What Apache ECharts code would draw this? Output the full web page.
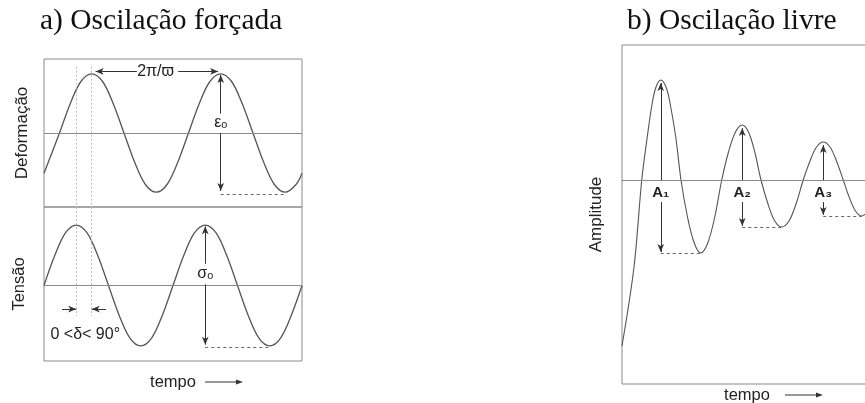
<!DOCTYPE html>
<html>
<head>
<meta charset="utf-8">
<script src="https://cdn.jsdelivr.net/npm/echarts@6/dist/echarts.min.js"></script>
<style>
  html, body { margin: 0; padding: 0; background: #fff; }
  #chart { width: 865px; height: 403px; }
</style>
</head>
<body>
<div id="chart"></div>
<script>
// a) forced oscillation: strain (top) lags stress (bottom) by delta
const strainT = [0, 0.6, 1.02, 1.43, 1.85, 2.27, 2.68, 3.1, 3.52, 3.93, 4.35, 4.77, 5.18, 5.6,
  6.02, 6.43, 6.85, 7.27, 7.68, 8.1, 8.52, 8.93, 9.35, 9.77, 10]
const strainV = [-0.68, 0, 0.5, 0.87, 1, 0.87, 0.5, 0, -0.5, -0.87, -1, -0.87, -0.5, 0,
  0.5, 0.87, 1, 0.87, 0.5, 0, -0.5, -0.87, -1, -0.87, -0.68]
const stressT = [0, 0.42, 0.83, 1.25, 1.67, 2.08, 2.5, 2.92, 3.33, 3.75, 4.17, 4.58, 5,
  5.42, 5.83, 6.25, 6.67, 7.08, 7.5, 7.92, 8.33, 8.75, 9.17, 9.58, 10]
const stressV = [0, 0.5, 0.87, 1, 0.87, 0.5, 0, -0.5, -0.87, -1, -0.87, -0.5, 0,
  0.5, 0.87, 1, 0.87, 0.5, 0, -0.5, -0.87, -1, -0.87, -0.5, 0]

// b) free (damped) oscillation
const freeT = [0, 0.48, 0.79, 1.01, 1.21, 1.36, 1.55, 1.76, 1.92, 2.15, 2.36, 2.62, 2.89, 3.15, 3.43, 3.71,
  3.99, 4.26, 4.54, 4.81, 5.06, 5.31, 5.56, 5.84, 6.11, 6.39, 6.68, 6.96, 7.25, 7.52, 7.78, 8.05,
  8.32, 8.58, 8.85, 9.1, 9.34, 9.59, 10]
const freeV = [-1.66, -0.87, 0, 0.43, 0.77, 0.93, 1, 0.93, 0.77, 0.43, 0, -0.37, -0.63, -0.73, -0.63, -0.37,
  0, 0.28, 0.48, 0.55, 0.48, 0.28, 0, -0.24, -0.41, -0.47, -0.41, -0.24, 0, 0.19, 0.33, 0.38,
  0.33, 0.19, 0, -0.18, -0.31, -0.36, -0.25]
const ampNames = ['A₁', 'A₂', 'A₃']

const SANS = '"Liberation Sans", Arial, sans-serif'
const LINE = '#555'
const FRAME = '#8a8a8a'

function pairs(t, v) {
  return t.map((x, i) => [x, v[i]])
}

// indices of local maxima (dir = 1) or minima (dir = -1)
function extremes(v, dir) {
  const idx = []
  for (let i = 1; i < v.length - 1; i++) {
    if (dir * (v[i] - v[i - 1]) > 0 && dir * (v[i] - v[i + 1]) > 0) idx.push(i)
  }
  return idx
}

function seg(a, b, s0, s1, style) {
  return [
    { coord: a, symbol: s0, symbolSize: [5, 8], lineStyle: style },
    { coord: b, symbol: s1, symbolSize: [5, 8], lineStyle: style }
  ]
}

const solid = { type: 'solid', color: '#333', width: 1 }
const dashed = { type: [3, 3], color: '#666', width: 1 }
const dotted = { type: [2, 2], color: '#bbb', width: 1 }
const center = { type: 'solid', color: FRAME, width: 1 }
const zeroLine = { yAxis: 0, lineStyle: center }

const sPk = extremes(strainV, 1), sTr = extremes(strainV, -1)
const tPk = extremes(stressV, 1), tTr = extremes(stressV, -1)
const fPk = extremes(freeV, 1), fTr = extremes(freeV, -1)

// phase lag marks
const lagA = stressT[tPk[0]]
const lagB = strainT[sPk[0]]

// annotations, upper panel
const period = [strainT[sPk[0]] + 0.15, strainT[sPk[1]] - 0.1]
const periodY = 1.04
const epsX = strainT[sPk[1]]
const strainMarks = [
  zeroLine,
  seg([period[0], periodY], [3.6, periodY], 'arrow', 'none', solid),
  seg([5.2, periodY], [period[1], periodY], 'none', 'arrow', solid),
  seg([epsX, strainV[sPk[1]] - 0.02], [epsX, 0.33], 'arrow', 'none', solid),
  seg([epsX, 0.0], [epsX, strainV[sTr[1]] + 0.02], 'none', 'arrow', solid),
  seg([epsX, strainV[sTr[1]] - 0.03], [strainT[sTr[1]], strainV[sTr[1]] - 0.03], 'none', 'none', dashed),
  seg([lagA, 1.12], [lagA, -1.25], 'none', 'none', dotted),
  seg([lagB, 1.12], [lagB, -1.25], 'none', 'none', dotted)
]

// annotations, lower panel
const sigX = stressT[tPk[1]]
const stressMarks = [
  zeroLine,
  seg([sigX, stressV[tPk[1]] - 0.02], [sigX, 0.36], 'arrow', 'none', solid),
  seg([sigX, 0.02], [sigX, stressV[tTr[1]] + 0.02], 'none', 'arrow', solid),
  seg([sigX, stressV[tTr[1]] - 0.03], [stressT[tTr[1]], stressV[tTr[1]] - 0.03], 'none', 'none', dashed),
  seg([lagA, 1.3], [lagA, -0.5], 'none', 'none', dotted),
  seg([lagB, 1.3], [lagB, -0.5], 'none', 'none', dotted),
  seg([lagA - 0.55, -0.39], [lagA, -0.39], 'none', 'arrow', solid),
  seg([lagB + 0.55, -0.39], [lagB, -0.39], 'none', 'arrow', solid)
]

// annotations, damped panel
const freeMarks = [zeroLine]
const freeLabels = []
fPk.forEach((p, i) => {
  const x = freeT[p]
  const tr = fTr[i]
  freeMarks.push(seg([x, 0], [x, freeV[p] - 0.03], 'none', 'arrow', solid))
  freeMarks.push(seg([x, -0.22], [x, freeV[tr] + 0.01], 'none', 'arrow', solid))
  freeMarks.push(seg([x, freeV[tr]], [freeT[tr], freeV[tr]], 'none', 'none', dashed))
  freeLabels.push({ coord: [x, -0.13], value: ampNames[i] })
})

function marks(data) {
  return { silent: true, symbol: ['none', 'none'], label: { show: false }, data: data }
}

function textPoints(data, font) {
  return {
    symbol: 'circle',
    symbolSize: 0,
    itemStyle: { color: 'rgba(0,0,0,0)' },
    label: {
      show: true,
      position: 'inside',
      color: '#222',
      fontFamily: SANS,
      fontSize: 16,
      formatter: p => p.value,
      ...font
    },
    data: data
  }
}

const axisOff = {
  axisLine: { show: false },
  axisTick: { show: false },
  axisLabel: { show: false },
  splitLine: { show: false }
}
const nameStyle = { fontFamily: SANS, fontSize: 16.5, color: '#222' }
const gridBase = { show: true, borderColor: FRAME, borderWidth: 1, outerBoundsMode: 'none', containLabel: false }
// catmull-rom like smoothing, no clamping of control points
const curve = { type: 'line', smooth: 0.34, smoothConstraint: false, showSymbol: false }

const chart = echarts.init(document.getElementById('chart'))
chart.setOption({
  animation: false,
  grid: [
    { ...gridBase, left: 44, top: 59, width: 258, height: 148 },
    { ...gridBase, left: 44, top: 207, width: 258, height: 154 },
    { ...gridBase, left: 622, top: 45, width: 250, height: 339 }
  ],
  xAxis: [
    { type: 'value', gridIndex: 0, min: 0, max: 10, ...axisOff },
    { type: 'value', gridIndex: 1, min: 0, max: 10, ...axisOff,
      name: 'tempo', nameLocation: 'middle', nameGap: 13, nameTextStyle: nameStyle },
    { type: 'value', gridIndex: 2, min: 0, max: 10, ...axisOff,
      name: 'tempo', nameLocation: 'middle', nameGap: 3, nameTextStyle: nameStyle }
  ],
  yAxis: [
    { type: 'value', gridIndex: 0, min: -1.25, max: 1.25, ...axisOff,
      name: 'Deformação', nameLocation: 'middle', nameRotate: 90, nameGap: 13,
      nameTextStyle: { ...nameStyle, fontSize: 17 } },
    { type: 'value', gridIndex: 1, min: -1.25, max: 1.3, ...axisOff,
      name: 'Tensão', nameLocation: 'middle', nameRotate: 90, nameGap: 16, nameTextStyle: nameStyle },
    { type: 'value', gridIndex: 2, min: -2.04, max: 1.35, ...axisOff,
      name: 'Amplitude', nameLocation: 'middle', nameRotate: 90, nameGap: 17,
      nameTextStyle: { ...nameStyle, fontSize: 17 } }
  ],
  series: [
    {
      ...curve, xAxisIndex: 0, yAxisIndex: 0,
      lineStyle: { color: LINE, width: 1.3 },
      data: pairs(strainT, strainV),
      markLine: marks(strainMarks),
      markPoint: textPoints([
        { coord: [(period[0] + period[1]) / 2 - 0.05, periodY], value: '2π/ϖ' },
        { coord: [epsX, 0.17], value: 'εₒ' }
      ])
    },
    {
      ...curve, xAxisIndex: 1, yAxisIndex: 1,
      lineStyle: { color: LINE, width: 1.3 },
      data: pairs(stressT, stressV),
      markLine: marks(stressMarks),
      markPoint: textPoints([
        { coord: [sigX, 0.19], value: 'σₒ' },
        { coord: [(lagA + lagB) / 2 + 0.05, -0.82], value: '0 <δ< 90°' }
      ])
    },
    {
      ...curve, xAxisIndex: 2, yAxisIndex: 2,
      lineStyle: { color: LINE, width: 1.1 },
      data: pairs(freeT, freeV),
      markLine: marks(freeMarks),
      markPoint: textPoints(freeLabels, { fontWeight: 'bold', fontSize: 15 })
    }
  ],
  graphic: [
    { type: 'text', x: 40, y: 21,
      style: { text: 'a) Oscilação forçada', font: '29.5px "Liberation Serif", serif', fill: '#111', verticalAlign: 'middle' } },
    { type: 'text', x: 627, y: 21,
      style: { text: 'b) Oscilação livre', font: '29.5px "Liberation Serif", serif', fill: '#111', verticalAlign: 'middle' } },
    { type: 'line', shape: { x1: 205, y1: 382, x2: 238, y2: 382 }, style: { stroke: '#333', lineWidth: 1 } },
    { type: 'polygon', shape: { points: [[243, 382], [236, 379.5], [236, 384.5]] }, style: { fill: '#333' } },
    { type: 'line', shape: { x1: 785, y1: 395, x2: 818, y2: 395 }, style: { stroke: '#333', lineWidth: 1 } },
    { type: 'polygon', shape: { points: [[823, 395], [816, 392.5], [816, 397.5]] }, style: { fill: '#333' } }
  ]
})
</script>
</body>
</html>
